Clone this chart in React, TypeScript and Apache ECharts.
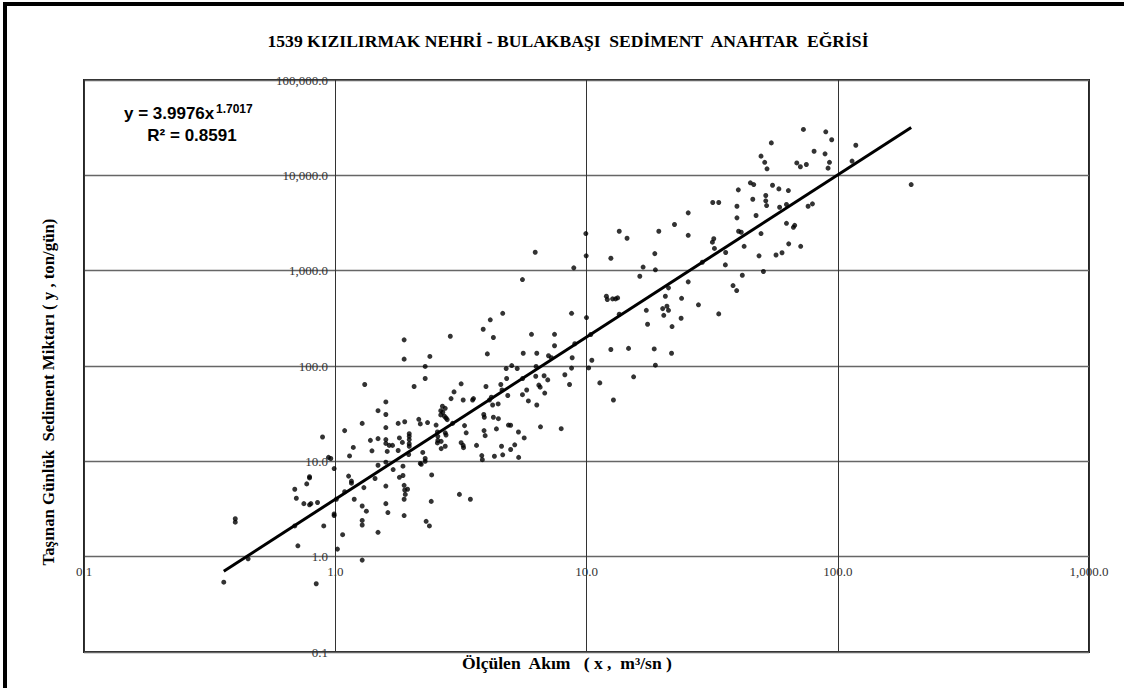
import React, { useEffect, useRef } from "react";
import * as echarts from "echarts";

const flowValues: number[] = [
  0.36, 0.40, 0.40, 0.45, 0.69, 0.70, 0.69, 0.71, 0.75, 0.77, 0.79, 0.79, 0.80, 0.79, 0.85, 0.84,
  0.89, 0.90, 0.94, 0.96, 0.99, 0.99, 0.99, 1.01, 1.02, 1.07, 1.09, 1.09, 1.14, 1.13, 1.16, 1.16,
  1.18, 1.19, 1.28, 1.31, 1.30, 1.28, 1.33, 1.28, 1.28, 1.28, 1.38, 1.40, 1.44, 1.48, 1.48, 1.48,
  1.48, 1.59, 1.59, 1.59, 1.59, 1.59, 1.61, 1.59, 1.59, 1.59, 1.62, 1.64, 1.69, 1.70, 1.78, 1.80,
  1.85, 1.78, 1.80, 1.86, 1.86, 1.88, 1.88, 1.89, 1.88, 1.89, 1.90, 1.88, 1.88, 1.94, 1.97, 1.97,
  1.97, 1.97, 1.97, 1.96, 2.06, 2.15, 2.18, 2.18, 2.20, 2.23, 2.28, 2.28, 2.28, 2.28, 2.33, 2.38,
  2.42, 2.41, 2.30, 2.37, 2.52, 2.55, 2.56, 2.55, 2.56, 2.63, 2.68, 2.67, 2.74, 2.63, 2.72, 2.76,
  2.79, 2.74, 2.76, 2.64, 2.74, 2.64, 2.87, 2.89, 2.93, 2.97, 3.12, 3.17, 3.17, 3.23, 3.24, 3.23,
  3.27, 3.32, 3.45, 3.52, 3.55, 3.65,
  3.88, 4.14, 4.64, 4.26, 4.03, 5.56, 6.25, 6.04, 5.60, 6.34, 7.46, 7.46, 7.06, 7.25, 8.90, 8.72,
  9.94, 9.97, 10.0, 8.98, 8.77, 8.72, 10.4, 10.5, 10.2, 8.20, 8.56, 11.3, 12.8, 12.5, 12.5, 13.5,
  14.5, 12.0, 12.1, 12.7, 13.05, 13.3, 13.5, 14.7, 15.4, 16.3, 16.8, 17.3, 17.5, 18.6, 18.8, 18.7,
  18.8, 19.4, 20.1, 20.3, 20.6, 21.2, 20.9, 21.2, 21.8, 21.9, 22.4, 23.8, 23.9, 25.4, 25.4, 25.4,
  27.9, 28.9, 31.7, 32.1, 32.3, 31.8, 33.6, 33.6, 35.8, 35.7, 38.3, 39.6, 39.7, 39.7, 40.2, 40.3,
  3.98, 4.56, 4.61, 4.79, 4.81, 5.04, 5.30, 4.86, 5.57, 5.56, 5.78, 5.87, 6.34, 6.28, 6.30, 6.46,
  6.54, 6.78, 7.01, 6.82, 6.56, 7.93, 5.65, 5.36, 5.37, 4.99, 5.18, 4.89, 4.99, 4.64, 4.59, 4.38,
  4.46, 4.26, 4.23, 4.45, 4.11, 4.18, 3.90, 3.92, 3.91, 3.95, 4.30, 3.83, 3.85,
  73.0, 89.6, 94.6, 54.4, 80.5, 89.0, 118, 49.5, 51.2, 52.3, 68.7, 71.0, 75.0, 92.7, 91.5, 114,
  196, 44.9, 46.3, 55.0, 58.3, 63.6, 45.9, 51.7, 51.7, 52.1, 58.7, 62.5, 76.2, 79.3, 47.3, 41.3,
  42.4, 49.5, 48.6, 56.8, 60.0, 62.5, 66.6, 67.4, 63.8, 71.2, 50.6, 41.7,
];

const sedimentValues: number[] = [
  0.54, 2.5, 2.3, 0.95, 5.1, 4.1, 2.1, 1.3, 3.6, 5.8, 6.7, 6.9, 3.6, 3.5, 3.7, 0.52,
  18, 2.1, 11, 10.7, 8.4, 2.8, 2.7, 4.0, 1.2, 1.7, 21, 4.8, 11.4, 7.0, 6.2, 5.9,
  14, 4.0, 25, 64, 5.3, 3.4, 3.0, 2.4, 2.15, 0.92, 16.6, 12.9, 6.6, 34, 17.3, 9.1,
  1.8, 42, 31, 22.6, 16.9, 15.4, 12.7, 9.8, 5.5, 3.6, 2.9, 14.7, 14.7, 8.2, 25, 17.6,
  15.8, 13, 6.8, 7.1, 8.9, 188, 118, 26, 5.6, 5.0, 4.5, 4.0, 2.7, 5.1, 19.5, 18.3,
  16.9, 15.3, 14.4, 11.8, 61, 27.6, 24.7, 9.5, 9.3, 12.4, 10.7, 10, 99, 74, 25.5, 126,
  7.2, 3.8, 2.35, 2.1, 24, 20.3, 18.3, 15.6, 16.6, 34, 32.7, 37.8, 36, 30.7, 29.7, 28.5,
  27.4, 19.9, 18.9, 13.6, 14.4, 16.2, 205, 45.5, 25, 53.5, 4.5, 65, 15.7, 14.7, 13.9, 44,
  23.7, 19.9, 4.0, 44, 45.5, 14.7,
  243, 305, 357, 199, 134, 807, 1560, 215, 136, 136, 215, 163, 128, 122, 1070, 357,
  2450, 1430, 322, 171, 122, 95, 214, 115, 95.5, 81, 64, 66.5, 44, 149, 1350, 2590,
  2190, 539, 498, 506, 506, 518, 349, 153, 77, 874, 1090, 384, 274, 151, 102, 1510,
  1020, 2590, 400, 340, 539, 660, 423, 384, 136, 259, 3050, 317, 513, 4040, 2350, 763,
  438, 1225, 1990, 2160, 1710, 5190, 5190, 352, 1550, 1150, 698, 618, 4740, 3580, 7040, 2590,
  61, 64, 56, 94, 74, 101, 94, 49, 74, 50, 56, 43, 39, 78, 99, 63,
  60, 79, 71.5, 52, 23, 22, 17.6, 20.3, 11, 13.3, 14.9, 24, 23.9, 11.7, 14.4, 21.9,
  28, 29, 39, 40, 44, 47, 31, 29, 21, 18.6, 11.3, 11.5, 10.4,
  30300, 28600, 23600, 21900, 17900, 16800, 20700, 15900, 13700, 11700, 13500, 12300, 13000, 13700, 11900, 14100,
  8000, 8340, 8000, 7870, 7210, 6920, 5610, 6140, 5400, 4820, 4630, 4940, 4740, 5020, 3790, 2530,
  1800, 2450, 1430, 1460, 1540, 3140, 2850, 2990, 1910, 1800, 980, 895,
];

// Power-law trend line y = a · x^b (from the equation shown on the chart)
const trendCoefA = 3.9976;
const trendCoefB = 1.7017;
const rSquared = 0.8591;

const xAxisRange = [0.1, 1000];
const yAxisRange = [0.1, 100000];

const chartTitle = "1539 KIZILIRMAK NEHRİ - BULAKBAŞI  SEDİMENT  ANAHTAR  EĞRİSİ";
const xAxisTitle = "Ölçülen  Akım   ( x ,  m³/sn )";
const yAxisTitle = "Taşınan Günlük  Sediment Miktarı ( y , ton/gün)";

const fmt = (v: number) =>
  Number(v).toLocaleString("en-US", { minimumFractionDigits: 1, maximumFractionDigits: 1 });

export default function App() {
  const ref = useRef<HTMLDivElement>(null);

  useEffect(() => {
    if (!ref.current) return;
    const chart = echarts.init(ref.current, null, { renderer: "svg" });

    const points = flowValues.map((x, i) => [x, sedimentValues[i]]);
    const xMin = Math.min(...flowValues);
    const xMax = Math.max(...flowValues);
    const trend = [
      [xMin, trendCoefA * Math.pow(xMin, trendCoefB)],
      [xMax, trendCoefA * Math.pow(xMax, trendCoefB)],
    ];

    const serif = "'Liberation Serif', 'Times New Roman', serif";
    const sans = "'Liberation Sans', Arial, sans-serif";

    chart.setOption({
      animation: false,
      backgroundColor: "#ffffff",
      grid: {
        left: 84,
        top: 80,
        right: 35,
        bottom: 36,
        show: true,
        borderColor: "#262626",
        borderWidth: 2,
        backgroundColor: "transparent",
      },
      xAxis: {
        type: "log",
        logBase: 10,
        min: xAxisRange[0],
        max: xAxisRange[1],
        offset: -95,
        splitNumber: 4,
        axisLine: { show: false },
        axisTick: { show: false },
        axisLabel: {
          formatter: fmt,
          fontFamily: serif,
          fontSize: 13,
          color: "#333",
          margin: 8,
          showMinLabel: true,
          showMaxLabel: true,
        },
        splitLine: { show: true, lineStyle: { color: "#333", width: 1 } },
      },
      yAxis: {
        type: "log",
        logBase: 10,
        min: yAxisRange[0],
        max: yAxisRange[1],
        offset: -252,
        splitNumber: 6,
        axisLine: { show: false },
        axisTick: { show: false },
        axisLabel: {
          formatter: fmt,
          fontFamily: serif,
          fontSize: 13,
          color: "#333",
          margin: 8,
          showMinLabel: true,
          showMaxLabel: true,
        },
        splitLine: { show: true, lineStyle: { color: "#666", width: 1.3 } },
      },
      series: [
        {
          type: "scatter",
          data: points,
          symbol: "circle",
          symbolSize: 5,
          itemStyle: { color: "#000" },
          z: 3,
        },
        {
          type: "line",
          data: trend,
          showSymbol: false,
          lineStyle: { color: "#000", width: 3 },
          z: 4,
        },
      ],
      graphic: [
        {
          type: "rect",
          shape: { x: 5, y: 4, width: 1200, height: 1000 },
          style: { fill: "none", stroke: "#000", lineWidth: 4 },
          silent: true,
        },
        {
          type: "text",
          x: 568,
          y: 42,
          scaleX: 1.1,
          style: {
            text: chartTitle,
            font: `bold 16px ${serif}`,
            fill: "#000",
            align: "center",
            verticalAlign: "middle",
          },
        },
        {
          type: "text",
          x: 567,
          y: 664,
          scaleX: 1.1,
          style: {
            text: xAxisTitle,
            font: `bold 16px ${serif}`,
            fill: "#000",
            align: "center",
            verticalAlign: "middle",
          },
        },
        {
          type: "text",
          x: 49,
          y: 392,
          rotation: Math.PI / 2,
          scaleX: 1.05,
          style: {
            text: yAxisTitle,
            font: `bold 16px ${serif}`,
            fill: "#000",
            align: "center",
            verticalAlign: "middle",
          },
        },
        {
          type: "text",
          x: 124,
          y: 113,
          style: {
            text: `y = ${trendCoefA}x`,
            font: `bold 17px ${sans}`,
            fill: "#000",
            align: "left",
            verticalAlign: "middle",
          },
        },
        {
          type: "text",
          x: 216,
          y: 109,
          style: {
            text: `${trendCoefB}`,
            font: `bold 12px ${sans}`,
            fill: "#000",
            align: "left",
            verticalAlign: "middle",
          },
        },
        {
          type: "text",
          x: 192,
          y: 135,
          style: {
            text: `R² = ${rSquared}`,
            font: `bold 17px ${sans}`,
            fill: "#000",
            align: "center",
            verticalAlign: "middle",
          },
        },
      ],
    });

    return () => chart.dispose();
  }, []);

  return (
    <div
      ref={ref}
      style={{ position: "fixed", left: 0, top: 0, width: 1124, height: 688, background: "#fff" }}
    />
  );
}
